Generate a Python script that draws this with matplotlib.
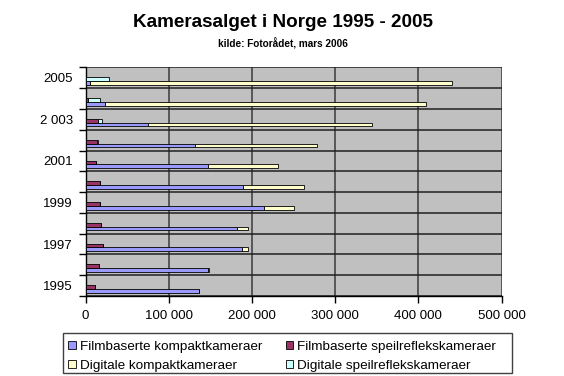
import numpy as np
import matplotlib.pyplot as plt
from matplotlib.patches import Patch, Rectangle
from matplotlib.ticker import FuncFormatter

plt.rcParams['font.family'] = ['Liberation Sans', 'DejaVu Sans']

years = [1995, 1996, 1997, 1998, 1999, 2000, 2001, 2002, 2003, 2004, 2005]
film_kompakt = [137000, 147000, 188000, 182000, 214000, 189000, 147000, 132000, 75000, 23000, 6000]
film_speil = [12000, 16000, 21000, 19000, 18000, 17000, 12500, 14000, 15500, 3000, 500]
digital_kompakt = [0, 2000, 7000, 13000, 37000, 74000, 84000, 146000, 269000, 386000, 434000]
digital_speil = [0, 0, 0, 0, 0, 0, 0, 1000, 4000, 14000, 28000]

year_labels = ['1995', '1997', '1999', '2001', '2 003', '2005']
label_years = [1995, 1997, 1999, 2001, 2003, 2005]

c_fk = '#9999FF'
c_fs = '#993366'
c_dk = '#FFFFCC'
c_ds = '#CCFFFF'

fig = plt.figure(figsize=(5.64, 3.76), dpi=100)
ax = fig.add_axes([0.1516, 0.2128, 0.7376, 0.6077])
ax.set_facecolor('#C0C0C0')

y = np.array(years)
h = 0.18
y_low = y - 0.25
y_up = y - 0.07

# nedre rad: kompakt (film + digital), øvre rad: speilrefleks (film + digital)
ax.barh(y_low, film_kompakt, height=h, color=c_fk, edgecolor='black', linewidth=0.6, zorder=3)
ax.barh(y_low, digital_kompakt, height=h, left=film_kompakt, color=c_dk, edgecolor='black', linewidth=0.6, zorder=3)
ax.barh(y_up, film_speil, height=h, color=c_fs, edgecolor='black', linewidth=0.6, zorder=3)
ax.barh(y_up, digital_speil, height=h, left=film_speil, color=c_ds, edgecolor='black', linewidth=0.6, zorder=3)

ax.set_xlim(0, 500000)
ax.set_ylim(1994.5, 2005.5)
ax.set_xticks(np.arange(0, 500001, 100000))
ax.xaxis.set_major_formatter(FuncFormatter(lambda v, p: f'{int(v):,}'.replace(',', ' ')))
ax.set_yticks(label_years)
ax.set_yticklabels(year_labels)
ax.set_yticks(np.arange(1994.5, 2005.6, 1), minor=True)

ax.tick_params(axis='x', length=5, width=1, pad=5, labelsize=9.5, direction='out')
ax.tick_params(axis='y', which='major', length=0, pad=9, labelsize=9.5)
ax.tick_params(axis='y', which='minor', length=5, width=1, direction='out')

ax.grid(axis='x', color='#3a3a3a', linewidth=1.1, zorder=1)
ax.grid(axis='y', which='minor', color='#202020', linewidth=1.1, zorder=1)
for s in ['top', 'right']:
    ax.spines[s].set_visible(False)
for s in ['left', 'bottom']:
    ax.spines[s].set_color('black')
    ax.spines[s].set_linewidth(1)

fig.text(0.501, 0.940, 'Kamerasalget i Norge 1995 - 2005', ha='center', va='center',
         fontsize=13.6, fontweight='bold')
fig.text(0.501, 0.884, 'kilde: Fotorådet, mars 2006', ha='center', va='center',
         fontsize=7.2, fontweight='bold')

handles = [Patch(facecolor=c_fk, edgecolor='black', linewidth=0.6),
           Patch(facecolor=c_dk, edgecolor='black', linewidth=0.6),
           Patch(facecolor=c_fs, edgecolor='black', linewidth=0.6),
           Patch(facecolor=c_ds, edgecolor='black', linewidth=0.6)]
labels = ['Filmbaserte kompaktkameraer', 'Digitale kompaktkameraer',
          'Filmbaserte speilreflekskameraer', 'Digitale speilreflekskameraer']
fig.legend(handles, labels, ncol=2, loc='upper left', bbox_to_anchor=(0.1112, 0.1086),
           fontsize=9.7, frameon=False, borderaxespad=0,
           handlelength=0.55, handleheight=0.55, handletextpad=0.3,
           columnspacing=1.75, borderpad=0.42, labelspacing=0.5)
fig.patches.append(Rectangle((0.1112, 0.0072), 0.7961, 0.1064, transform=fig.transFigure,
                             fill=False, edgecolor='#404040', linewidth=1))

fig.savefig('out.png', dpi=100)
